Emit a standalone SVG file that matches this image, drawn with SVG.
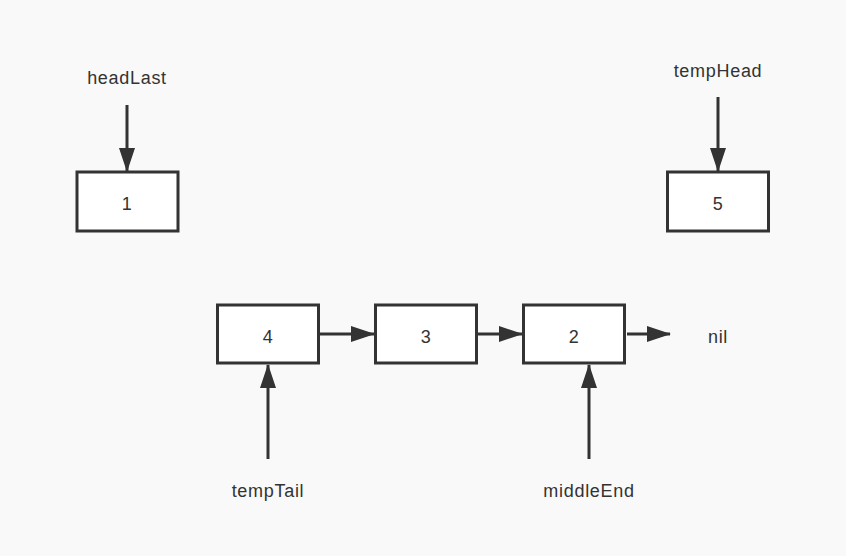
<svg xmlns="http://www.w3.org/2000/svg" width="846" height="556" viewBox="0 0 846 556">
<defs>
<style>
.box{fill:#ffffff;stroke:#333333;stroke-width:3}
.lbl{font-family:"Liberation Sans",Arial,sans-serif;font-size:18px;letter-spacing:0.7px;fill:#333333;text-anchor:middle}
.con{stroke:#333333;stroke-width:3;fill:none}
</style>
<marker id="ah" markerWidth="24" markerHeight="16" refX="23" refY="8" orient="auto" markerUnits="userSpaceOnUse">
<path d="M0,0 L24,8 L0,16 Z" fill="#333333"/>
</marker>
</defs>
<rect width="846" height="556" fill="#f9f9f9"/>
<g id="connectors">
<line class="con" x1="127" y1="105" x2="127" y2="171" marker-end="url(#ah)"/>
<line class="con" x1="718" y1="97" x2="718" y2="171" marker-end="url(#ah)"/>
<line class="con" x1="320" y1="334" x2="374" y2="334" marker-end="url(#ah)"/>
<line class="con" x1="478" y1="334" x2="522" y2="334" marker-end="url(#ah)"/>
<line class="con" x1="627" y1="334" x2="670" y2="334" marker-end="url(#ah)"/>
<line class="con" x1="268" y1="459" x2="268" y2="365" marker-end="url(#ah)"/>
<line class="con" x1="589" y1="459" x2="589" y2="365" marker-end="url(#ah)"/>
</g>
<g id="node-1"><rect class="box" x="77" y="172" width="101" height="59"/><text class="lbl" x="127" y="210">1</text></g>
<g id="node-5"><rect class="box" x="667.5" y="172" width="101" height="59"/><text class="lbl" x="718" y="210">5</text></g>
<g id="node-4"><rect class="box" x="217.5" y="305" width="101" height="58"/><text class="lbl" x="268" y="343">4</text></g>
<g id="node-3"><rect class="box" x="375.5" y="305" width="101" height="58"/><text class="lbl" x="426" y="343">3</text></g>
<g id="node-2"><rect class="box" x="523.5" y="305" width="101" height="58"/><text class="lbl" x="574" y="343">2</text></g>
<g id="label-headLast"><text class="lbl" x="127" y="84">headLast</text></g>
<g id="label-tempHead"><text class="lbl" x="718" y="77">tempHead</text></g>
<g id="label-nil"><text class="lbl" x="718" y="343">nil</text></g>
<g id="label-tempTail"><text class="lbl" x="268" y="497">tempTail</text></g>
<g id="label-middleEnd"><text class="lbl" x="589" y="497">middleEnd</text></g>
</svg>
